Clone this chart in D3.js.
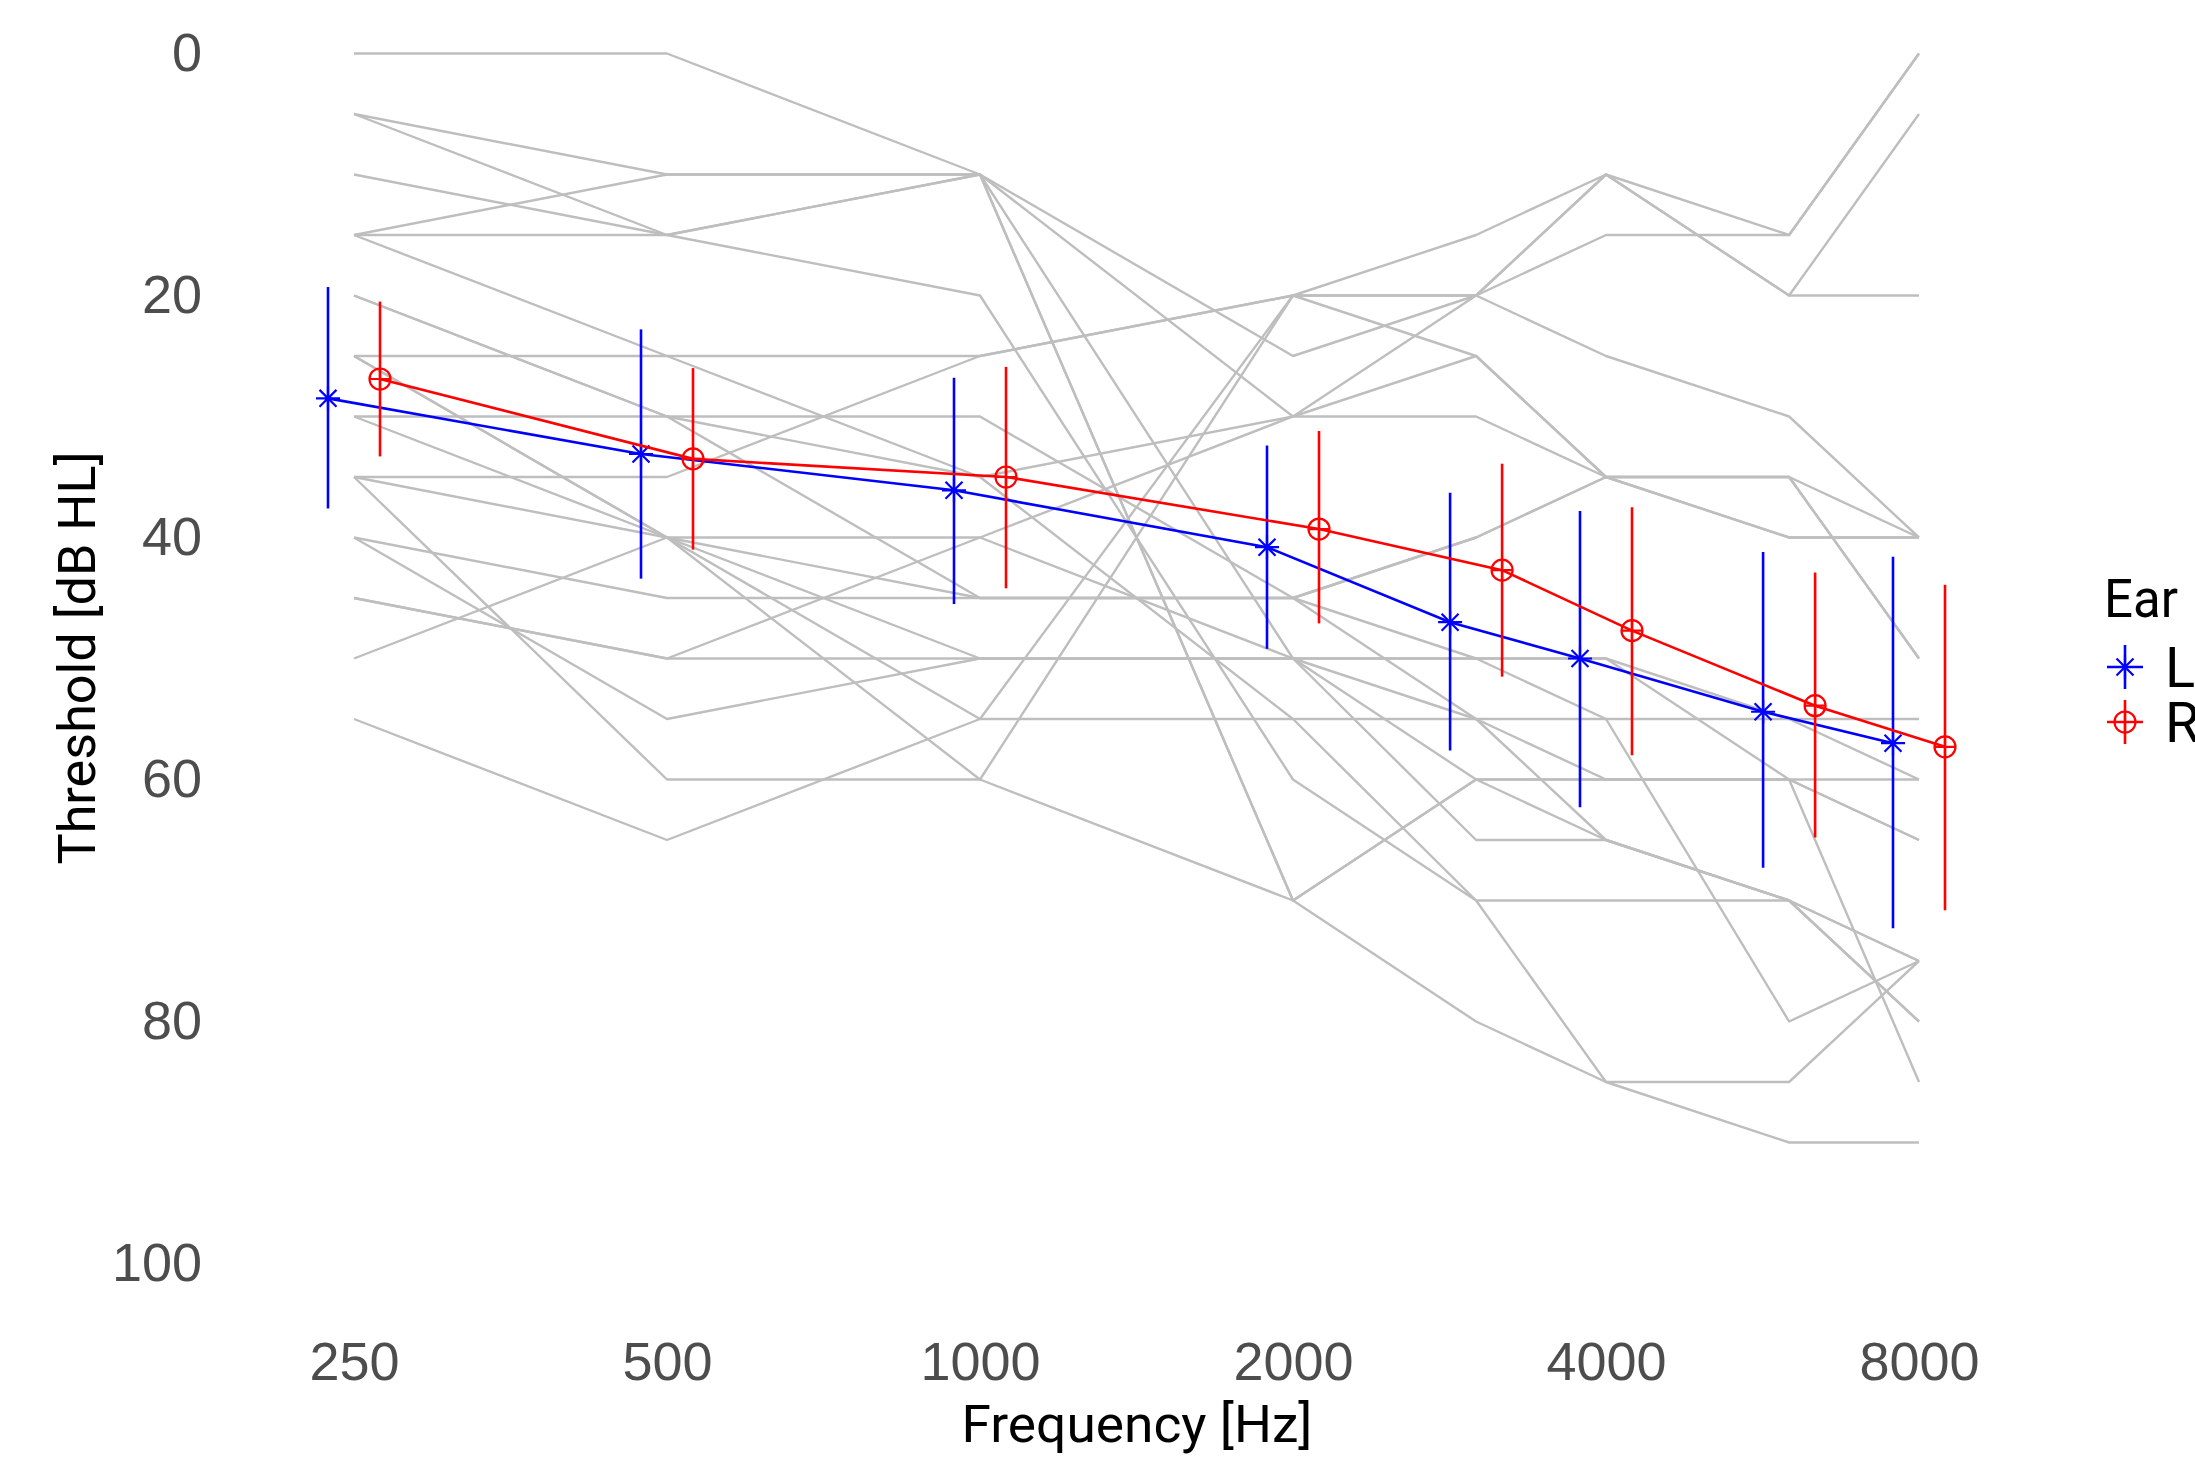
<!DOCTYPE html>
<html>
<head>
<meta charset="utf-8">
<script src="https://cdn.jsdelivr.net/npm/d3@7"></script>
<style>
  body { margin: 0; background: #fff; }
  text { font-family: Roboto, "Liberation Sans", sans-serif; }
</style>
</head>
<body>
<svg id="chart"></svg>
<script>
const W = 2195, H = 1458;

const freqs = [250, 500, 1000, 2000, 3000, 4000, 6000, 8000];
const tickFreqs = [250, 500, 1000, 2000, 4000, 8000];
const yTicks = [0, 20, 40, 60, 80, 100];

// individual audiograms (dB HL at each of freqs)
const ears = [
  [0, 0, 10, 25, 20, 25, 30, 40],
  [5, 10, 10, 30, 20, 10, 20, 5],
  [5, 15, 10, 70, 80, 85, 90, 90],
  [10, 15, 20, 60, 70, 85, 85, 75],
  [15, 10, 10, 50, 65, 65, 70, 75],
  [15, 15, 10, 70, 60, 60, 60, 65],
  [15, 25, 25, 20, 15, 10, 15, 0],
  [20, 30, 30, 45, 40, 35, 35, 40],
  [25, 25, 35, 55, 55, 55, 55, 55],
  [25, 40, 40, 50, 50, 50, 55, 60],
  [30, 30, 35, 30, 30, 35, 40, 40],
  [30, 40, 45, 45, 50, 55, 80, 75],
  [35, 35, 25, 20, 20, 15, 15, 0],
  [35, 40, 55, 20, 25, 35, 35, 50],
  [35, 60, 60, 20, 20, 10, 20, 20],
  [40, 45, 45, 45, 40, 35, 35, 50],
  [40, 55, 50, 50, 50, 50, 60, 85],
  [45, 50, 50, 50, 55, 60, 60, 65],
  [50, 40, 60, 70, 60, 65, 70, 80],
  [55, 65, 55, 55, 70, 70, 70, 80],
  [45, 50, 40, 30, 25, 35, 40, 40],
  [25, 40, 50, 50, 60, 60, 60, 60],
  [20, 30, 45, 45, 55, 65, 70, 75]
];

// means and error bar limits per ear
const meanL = [28.5, 33.1, 36.1, 40.8, 47.0, 50.0, 54.4, 57.0];
const lowL = [19.3, 22.8, 26.8, 32.4, 36.3, 37.8, 41.2, 41.6];
const highL = [37.6, 43.4, 45.5, 49.2, 57.6, 62.3, 67.3, 72.3];
const meanR = [26.9, 33.5, 35.0, 39.3, 42.7, 47.7, 53.9, 57.3];
const lowR = [20.5, 26.0, 25.9, 31.2, 33.9, 37.5, 42.9, 43.9];
const highR = [33.3, 41.0, 44.2, 47.1, 51.5, 58.0, 64.8, 70.8];

const x = d3.scaleLog().base(2).domain([250, 8000]).range([354, 1919]);
const y = d3.scaleLinear().domain([0, 100]).range([53.5, 1263.5]);
const dodge = 26;

const svg = d3.select('#chart').attr('width', W).attr('height', H);
svg.append('rect').attr('width', W).attr('height', H).attr('fill', '#fff');

// grey individual lines
const line = d3.line()
  .defined(d => d[1] != null)
  .x(d => x(d[0]))
  .y(d => y(d[1]));

svg.append('g')
  .selectAll('path')
  .data(ears)
  .enter().append('path')
  .attr('d', row => line(row.map((v, i) => [freqs[i], v])))
  .attr('fill', 'none')
  .attr('stroke', '#bebebe')
  .attr('stroke-width', 2.4)
  .attr('stroke-linejoin', 'round');

const series = [
  { ear: 'L', color: '#0000ff', off: -dodge, mean: meanL, low: lowL, high: highL },
  { ear: 'R', color: '#ff0000', off: dodge, mean: meanR, low: lowR, high: highR }
];

function asterisk(r) {
  const d = r * Math.SQRT1_2;
  return `M${-r},0L${r},0M0,${-r}L0,${r}M${-d},${-d}L${d},${d}M${-d},${d}L${d},${-d}`;
}
function circlePlus(r) {
  return `M${-r},0A${r},${r} 0 1,0 ${r},0A${r},${r} 0 1,0 ${-r},0M${-r},0L${r},0M0,${-r}L0,${r}`;
}

series.forEach(s => {
  const g = svg.append('g');
  const pts = freqs.map((f, i) => ({ f, m: s.mean[i], lo: s.low[i], hi: s.high[i] }));

  g.selectAll('line.err')
    .data(pts)
    .enter().append('line')
    .attr('x1', d => x(d.f) + s.off)
    .attr('x2', d => x(d.f) + s.off)
    .attr('y1', d => y(d.lo))
    .attr('y2', d => y(d.hi))
    .attr('stroke', s.color)
    .attr('stroke-width', 2.6);

  g.append('path')
    .attr('d', d3.line().x(d => x(d.f) + s.off).y(d => y(d.m))(pts))
    .attr('fill', 'none')
    .attr('stroke', s.color)
    .attr('stroke-width', 2.6);

  g.selectAll('path.pt')
    .data(pts)
    .enter().append('path')
    .attr('transform', d => `translate(${x(d.f) + s.off},${y(d.m)})`)
    .attr('d', s.ear === 'L' ? asterisk(12) : circlePlus(10.5))
    .attr('fill', 'none')
    .attr('stroke', s.color)
    .attr('stroke-width', 2.2);
});

// axes
const yAxis = svg.append('g')
  .attr('transform', 'translate(202,0)')
  .call(d3.axisLeft(y).tickValues(yTicks).tickSize(0).tickPadding(0));
yAxis.select('.domain').remove();
yAxis.selectAll('text')
  .attr('font-size', 54)
  .attr('fill', '#4d4d4d')
  .style('font-family', '"Liberation Sans", Arial, sans-serif');

const xAxis = svg.append('g')
  .attr('transform', 'translate(0,1342)')
  .call(d3.axisBottom(x).tickValues(tickFreqs).tickFormat(d3.format('d')).tickSize(0).tickPadding(0));
xAxis.select('.domain').remove();
xAxis.selectAll('text')
  .attr('font-size', 54)
  .attr('fill', '#4d4d4d')
  .style('font-family', '"Liberation Sans", Arial, sans-serif');

svg.append('text')
  .attr('x', 1137)
  .attr('y', 1442)
  .attr('text-anchor', 'middle')
  .attr('font-size', 52)
  .attr('textLength', 351)
  .attr('lengthAdjust', 'spacingAndGlyphs')
  .text('Frequency [Hz]');

svg.append('text')
  .attr('transform', 'translate(95,658) rotate(-90)')
  .attr('text-anchor', 'middle')
  .attr('font-size', 52)
  .attr('textLength', 413)
  .attr('lengthAdjust', 'spacingAndGlyphs')
  .text('Threshold [dB HL]');

// legend
const legend = svg.append('g');
legend.append('text')
  .attr('x', 2104)
  .attr('y', 617)
  .attr('font-size', 54)
  .attr('textLength', 74)
  .attr('lengthAdjust', 'spacingAndGlyphs')
  .text('Ear');

series.forEach((s, i) => {
  const cy = 667 + i * 55;
  const k = legend.append('g').attr('transform', `translate(2125,${cy})`);
  k.append('line').attr('x1', -18).attr('x2', 18).attr('stroke', s.color).attr('stroke-width', 2.6);
  k.append('line').attr('y1', -22).attr('y2', 22).attr('stroke', s.color).attr('stroke-width', 2.6);
  k.append('path')
    .attr('d', s.ear === 'L' ? asterisk(12) : circlePlus(10.5))
    .attr('fill', 'none')
    .attr('stroke', s.color)
    .attr('stroke-width', 2.2);
  legend.append('text')
    .attr('x', 2165)
    .attr('y', cy + 20)
    .attr('font-size', 56)
    .text(s.ear);
});
</script>
</body>
</html>
